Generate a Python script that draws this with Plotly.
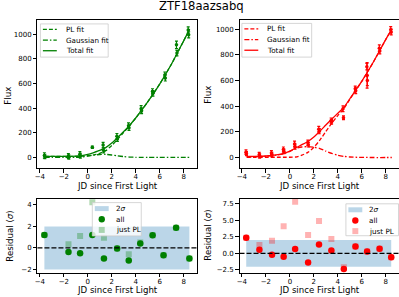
import plotly.graph_objects as go

# ---------------- data ----------------
green_t = [-3.62, -3.58, -1.62, -1.58, -0.66, -0.62, 0.38, 1.28, 1.32, 2.43, 2.47, 3.40, 3.44,
           4.45, 4.49, 5.40, 5.44, 6.43, 6.47, 7.40, 7.44, 8.38, 8.42]
green_flux = [16, 8, 12, 4, 26, 14, 83, 100, 57, 172, 150, 258, 240,
              395, 378, 535, 520, 668, 645, 913, 846, 1034, 994]
green_err = [22, 18, 20, 18, 22, 20, 10, 22, 20, 22, 20, 22, 20,
             25, 22, 22, 22, 25, 25, 30, 22, 25, 25]

red_t = [-3.66, -3.62, -2.56, -2.52, -1.54, -1.50, -0.54, -0.50, 0.39, 0.43, 1.50, 1.54, 2.41, 2.45,
         3.44, 3.48, 4.43, 4.47, 5.45, 5.49, 6.42, 6.44, 6.46, 7.46, 7.50, 8.41, 8.45]
red_flux = [42, 30, 22, 12, 35, 25, 62, 48, 105, 85, 115, 100, 220, 205,
            288, 278, 380, 310, 535, 520, 708, 640, 600, 852, 830, 995, 978]
red_err = [18, 16, 18, 16, 18, 16, 20, 18, 22, 20, 20, 18, 22, 20,
           20, 18, 22, 15, 22, 22, 25, 100, 40, 25, 22, 25, 22]

fit_t = [-3.6, -3.0, -2.0, -1.0, -0.5, 0.0, 0.5, 1.0, 1.5, 2.0, 2.5, 3.0, 3.5, 4.0, 4.5,
         5.0, 6.0, 7.0, 8.0, 8.5]
green_total = [8, 8, 8, 10, 14, 25, 40, 57, 80, 117, 162, 210, 262, 320, 383,
               450, 595, 760, 945, 1040]
green_gauss = [0, 0, 0, 1, 4, 11, 19, 24, 25, 20, 13, 7, 3, 1, 0,
               0, 0, 0, 0, 0]
green_pl = [8, 8, 8, 9, 10, 14, 21, 33, 55, 97, 149, 203, 259, 319, 383,
            450, 595, 760, 945, 1040]

red_total = [8, 9, 12, 22, 32, 50, 76, 100, 125, 160, 205, 253, 300, 345, 390,
             458, 595, 750, 920, 1000]
red_gauss = [6, 7, 10, 20, 30, 48, 72, 82, 85, 80, 70, 50, 32, 18, 9,
             4, 1, 0, 0, 0]
red_pl = [2, 2, 2, 2, 2, 2, 4, 18, 40, 80, 135, 203, 268, 327, 381,
          454, 594, 750, 920, 1000]

green_rt = [-3.62, -1.61, -0.64, 0.38, 1.35, 2.45, 3.42, 4.38, 5.41, 6.32, 7.37, 8.48]
green_res_all = [1.2, -0.37, -0.49, 1.2, -0.98, -0.06, -1.17, 0.41, 1.18, -0.68, 1.89, -0.98]
green_res_pl = [1.2, 0.34, 1.11, 4.26, 0.96, -0.06, -0.58, 0.5, 1.18, -0.68, 1.89, -0.98]

red_rt = [-3.64, -2.54, -1.49, -0.52, 0.44, 1.52, 2.43, 3.46, 4.5, 5.47, 6.44, 7.48, 8.45]
red_res_all = [2.35, 0.54, -0.2, -0.5, 0.65, -1.36, 1.35, 0.45, -2.36, 1.05, 0.3, 0.7, -0.6]
red_res_pl = [2.35, 1.25, 1.9, 4.1, 7.78, 2.76, 4.86, 2.15, -2.1, 1.05, 0.3, 0.7, -0.6]

x_ticks = [-4, -2, 0, 2, 4, 6, 8]
x_ticklabels = ["\u22124", "\u22122", "0", "2", "4", "6", "8"]
flux_ticks = [0, 200, 400, 600, 800, 1000]
resL_ticks = [-2, 0, 2, 4]
resL_labels = ["\u22122", "0", "2", "4"]
resR_ticks = [-2.5, 0, 2.5, 5, 7.5]
resR_labels = ["\u22122.5", "0.0", "2.5", "5.0", "7.5"]
title_text = "ZTF18aazsabq"

# ---------------- style ----------------
W, H = 399, 297
FONT = "DejaVu Sans"
GREEN = "#008000"
RED = "#ff0000"
BAND = "rgba(31,119,180,0.3)"
TICKF = 7
LABF = 8.6
LEGF = 7.2
LW = 1.3
DASH = "4px,2px"
DASHDOT = "5px,2px,1.5px,2px"


def px(x):
    return x / W


def py(y):
    return 1 - y / H


fig = go.Figure()


def add_flux_panel(xa, ya, t, f, e, total, gauss, pl, col):
    fig.add_trace(go.Scatter(x=t, y=f, mode="markers",
                             marker=dict(color=col, size=3.5),
                             error_y=dict(type="data", array=e, color=col, thickness=1.2, width=1.5),
                             xaxis=xa, yaxis=ya, showlegend=False))
    fig.add_trace(go.Scatter(x=fit_t, y=pl, mode="lines", line=dict(color=col, width=LW, dash=DASH, shape="spline", smoothing=0.6),
                             xaxis=xa, yaxis=ya, showlegend=False))
    fig.add_trace(go.Scatter(x=fit_t, y=gauss, mode="lines", line=dict(color=col, width=LW, dash=DASHDOT, shape="spline", smoothing=0.6),
                             xaxis=xa, yaxis=ya, showlegend=False))
    fig.add_trace(go.Scatter(x=fit_t, y=total, mode="lines", line=dict(color=col, width=LW, shape="spline", smoothing=0.6),
                             xaxis=xa, yaxis=ya, showlegend=False))


def add_res_panel(xa, ya, rt, r_all, r_pl, col, fade):
    x0, x1 = min(rt), max(rt)
    fig.add_trace(go.Scatter(x=[x0, x1, x1, x0, x0], y=[-2, -2, 2, 2, -2], mode="lines", fill="toself",
                             fillcolor=BAND, line=dict(width=0), hoverinfo="skip",
                             xaxis=xa, yaxis=ya, showlegend=False))
    fig.add_trace(go.Scatter(x=rt, y=r_all, mode="markers", marker=dict(color=col, size=6.5, line=dict(width=0)),
                             xaxis=xa, yaxis=ya, showlegend=False))
    fig.add_trace(go.Scatter(x=rt, y=r_pl, mode="markers",
                             marker=dict(color=fade, size=6, symbol="square", line=dict(width=0)),
                             xaxis=xa, yaxis=ya, showlegend=False))
    fig.add_shape(type="line", xref=xa + " domain", yref=ya, x0=0, x1=1, y0=0, y1=0,
                  line=dict(color="black", width=1.3, dash="5px,2px"), layer="above")


add_flux_panel("x", "y", green_t, green_flux, green_err, green_total, green_gauss, green_pl, GREEN)
add_flux_panel("x2", "y2", red_t, red_flux, red_err, red_total, red_gauss, red_pl, RED)
add_res_panel("x3", "y3", green_rt, green_res_all, green_res_pl, GREEN, "rgba(0,128,0,0.3)")
add_res_panel("x4", "y4", red_rt, red_res_all, red_res_pl, RED, "rgba(255,0,0,0.3)")

L_LEFT, L_RIGHT = 34.7, 195.3
R_LEFT, R_RIGHT = 238.3, 399.0
TOP_T, TOP_B = 20.0, 169.0
BOT_T, BOT_B = 199.3, 274.0
XR = [-4.2, 9.1]

axis_common = dict(showline=True, linecolor="black", linewidth=0.8, ticks="outside", ticklen=3.5,
                   tickwidth=0.8, tickcolor="black", showgrid=False, zeroline=False,
                   tickfont=dict(size=TICKF, color="black", family=FONT))


def xax(dom, anchor):
    return dict(axis_common, domain=[px(dom[0]), px(dom[1])], range=XR, anchor=anchor,
                tickmode="array", tickvals=x_ticks, ticktext=x_ticklabels, mirror=True,
                ticklabelstandoff=-2)


def yax(dom, anchor, rng, vals, labels, mirror):
    d = dict(axis_common, domain=[py(dom[1]), py(dom[0])], range=rng, anchor=anchor,
             tickmode="array", tickvals=vals, mirror=mirror)
    if labels is not None:
        d["ticktext"] = labels
    return d


fig.update_layout(
    width=W, height=H, margin=dict(l=0, r=0, t=0, b=0),
    paper_bgcolor="white", plot_bgcolor="white",
    font=dict(family=FONT, color="black"),
    showlegend=False,
    xaxis=xax((L_LEFT, L_RIGHT), "y"),
    yaxis=yax((TOP_T, TOP_B), "x", [-89, 1115], flux_ticks, None, True),
    xaxis2=xax((R_LEFT, R_RIGHT), "y2"),
    yaxis2=yax((TOP_T, TOP_B), "x2", [-85, 1072], flux_ticks, None, False),
    xaxis3=xax((L_LEFT, L_RIGHT), "y3"),
    yaxis3=yax((BOT_T, BOT_B), "x3", [-2.34, 4.59], resL_ticks, resL_labels, True),
    xaxis4=xax((R_LEFT, R_RIGHT), "y4"),
    yaxis4=yax((BOT_T, BOT_B), "x4", [-2.97, 8.25], resR_ticks, resR_labels, False),
)

ann = []


def text(x, y, s, size, angle=0, xanchor="center"):
    ann.append(dict(x=px(x), y=py(y), xref="paper", yref="paper", text=s, showarrow=False,
                    xanchor=xanchor, yanchor="middle", textangle=angle,
                    font=dict(size=size, family=FONT, color="black")))


text(199.5, 6.5, title_text, 11.6)
text(115, 187, "JD since First Light", LABF)
text(318.5, 187, "JD since First Light", LABF)
text(115, 291, "JD since First Light", LABF)
text(318.5, 291, "JD since First Light", LABF)
text(5, 96, "Flux", LABF, -90)
text(206.5, 95, "Flux", LABF, -90)
text(7.5, 237, "Residual (<i>σ</i>)", LABF, -90)
text(207, 236, "Residual (<i>σ</i>)", LABF, -90)


def box(x0, y0, x1, y1):
    fig.add_shape(type="rect", xref="paper", yref="paper", x0=px(x0), x1=px(x1), y0=py(y1), y1=py(y0),
                  line=dict(color="#cccccc", width=0.8), fillcolor="rgba(255,255,255,0.8)", layer="above")


def line_legend(x0, y0, x1, y1, col):
    box(x0, y0, x1, y1)
    labels = ["PL fit", "Gaussian fit", "Total fit"]
    dashes = [DASH, DASHDOT, "solid"]
    ys = [y0 + 5.5, y0 + 16.2, y0 + 26.9]
    for lab, d, yy in zip(labels, dashes, ys):
        fig.add_shape(type="line", xref="paper", yref="paper", x0=px(x0 + 2.5), x1=px(x0 + 16.5),
                      y0=py(yy), y1=py(yy), line=dict(color=col, width=LW, dash=d), layer="above")
        text(x0 + 23.5, yy, lab, LEGF, xanchor="left")


def res_legend(x0, y0, x1, y1, col, fade):
    box(x0, y0, x1, y1)
    ys = [y0 + 6, y0 + 16.7, y0 + 27.4]
    cx = x0 + 9.5
    fig.add_shape(type="rect", xref="paper", yref="paper", x0=px(cx - 7), x1=px(cx + 7),
                  y0=py(ys[0] + 2.5), y1=py(ys[0] - 2.5), line=dict(width=0), fillcolor=BAND, layer="above")
    r = 3.2
    fig.add_shape(type="circle", xref="paper", yref="paper", x0=px(cx - r), x1=px(cx + r),
                  y0=py(ys[1] + r), y1=py(ys[1] - r), line=dict(width=0), fillcolor=col, layer="above")
    s = 3.0
    fig.add_shape(type="rect", xref="paper", yref="paper", x0=px(cx - s), x1=px(cx + s),
                  y0=py(ys[2] + s), y1=py(ys[2] - s), line=dict(width=0), fillcolor=fade, layer="above")
    text(x0 + 21.5, ys[0], "2<i>σ</i>", LEGF, xanchor="left")
    text(x0 + 21.5, ys[1], "all", LEGF, xanchor="left")
    text(x0 + 21.5, ys[2], "just PL", LEGF, xanchor="left")


line_legend(37.7, 24, 106, 57.3, GREEN)
line_legend(240.7, 23.5, 311, 57.3, RED)
res_legend(90, 203.3, 139.3, 236.7, GREEN, "rgba(0,128,0,0.3)")
res_legend(345.5, 204.5, 398.5, 236.5, RED, "rgba(255,0,0,0.3)")

fig.update_layout(annotations=ann)
fig.write_html("out.html", config={"displayModeBar": False},
               post_script="document.body.style.margin='0';document.body.style.overflow='hidden';")
